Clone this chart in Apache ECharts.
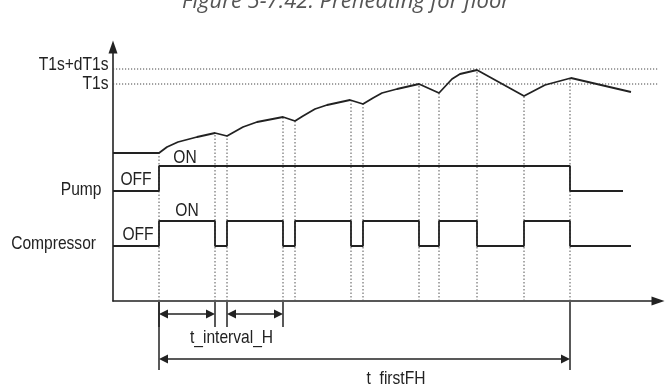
<!DOCTYPE html>
<html><head><meta charset="utf-8">
<script src="https://cdn.jsdelivr.net/npm/echarts@6/dist/echarts.min.js"></script>
<style>html,body{margin:0;padding:0;background:#fff}#c{width:668px;height:385px}</style>
</head><body><div id="c"></div>
<script>
// ---- data (arbitrary time / level units) ----
const titleText = 'Figure 5-7.42: Preheating for floor';
const tempTime  = [0, 46, 54, 65, 84, 102, 114, 130, 144, 170, 182, 190, 202, 214, 237, 250, 260, 269, 284, 306, 326, 339, 347, 364, 411, 432, 458, 518];
const tempLevel = [148, 148, 154, 159, 164, 168, 165, 174, 179, 184, 180, 185, 192, 196, 201, 197, 203, 208, 212, 217, 208, 222, 227, 231, 205, 216, 223, 209];
const setpointNames  = ['T1s+dT1s', 'T1s'];
const setpointLevels = [232, 217];
const pumpTimes  = [0, 46, 457, 510];      // start, switch on, switch off, end
const pumpLevels = [110, 135];             // OFF, ON
const compSwitchTimes = [46, 102, 114, 170, 182, 238, 250, 306, 326, 364, 411, 457];
const compEndTime = 518;
const compLevels = [55, 80];               // OFF, ON
const signalNames = ['Pump', 'Compressor'];
const stateNames = ['OFF', 'ON'];
const intervalH = [[46, 102], [114, 170]];
const firstFH = [46, 457];
const intervalName = 't_interval_H';
const firstName = 't_firstFH';

// ---- derived series data ----
const tempData = tempTime.map((t, i) => [t, tempLevel[i]]);
const pumpData = [[pumpTimes[0], pumpLevels[0]], [pumpTimes[1], pumpLevels[0]], [pumpTimes[1], pumpLevels[1]],
                  [pumpTimes[2], pumpLevels[1]], [pumpTimes[2], pumpLevels[0]], [pumpTimes[3], pumpLevels[0]]];
const compData = [[0, compLevels[0]]];
let st = 0;
compSwitchTimes.forEach(t => { compData.push([t, compLevels[st]]); st = 1 - st; compData.push([t, compLevels[st]]); });
compData.push([compEndTime, compLevels[st]]);
function tempAt(t) {
  for (let i = 0; i < tempTime.length - 1; i++) {
    if (t >= tempTime[i] && t <= tempTime[i + 1]) {
      const f = (t - tempTime[i]) / (tempTime[i + 1] - tempTime[i]);
      return tempLevel[i] + f * (tempLevel[i + 1] - tempLevel[i]);
    }
  }
  return tempLevel[tempLevel.length - 1];
}
const markerLines = [];
compSwitchTimes.forEach(t => { markerLines.push([t, 0], [t, tempAt(t)], [t, null]); });
const setLines = [];
setpointLevels.forEach(v => { setLines.push([0, v], [555, v], [null, v]); });

const FONT = "'Liberation Sans', Arimo, Arial, sans-serif";
const NARROW = 0.82;
const INK = '#222';

const dims = intervalH.map(d => [d[0], d[1], -13, -26]).concat([[firstFH[0], firstFH[1], -58, -69]]);

// text annotations: [time, level], text, alignment
const texts = [
  { at: [-4.5, 236], text: setpointNames[0], align: 'right' },
  { at: [-4.5, 217.5], text: setpointNames[1], align: 'right' },
  { at: [-11.5, 111], text: signalNames[0], align: 'right' },
  { at: [-17, 57], text: signalNames[1], align: 'right' },
  { at: [72, 143], text: stateNames[1], align: 'center' },
  { at: [23, 121], text: stateNames[0], align: 'center' },
  { at: [74, 90], text: stateNames[1], align: 'center' },
  { at: [25, 66], text: stateNames[0], align: 'center' },
  { at: [118.5, -36.5], text: intervalName, align: 'center' },
  { at: [283, -78], text: firstName, align: 'center' }
];

const chart = echarts.init(document.getElementById('c'), null, { renderer: 'canvas' });
chart.setOption({
  animation: false,
  backgroundColor: '#fff',
  grid: { left: 113, right: 10, top: 47, bottom: 84, containLabel: false, outerBoundsMode: 'none' },
  graphic: [{
    type: 'text', x: 346, y: 2, silent: true,
    style: { text: titleText, fontSize: 22, fontStyle: 'italic', fontFamily: "'Open Sans', sans-serif",
             fill: '#555', align: 'center', verticalAlign: 'middle', textAlign: 'center', textVerticalAlign: 'middle' }
  }],
  xAxis: {
    type: 'value', min: 0, max: 545,
    axisLine: { onZero: false, symbol: ['none', 'triangle'], symbolSize: [9, 13], lineStyle: { color: INK, width: 1.6 } },
    axisTick: { show: false }, axisLabel: { show: false }, splitLine: { show: false }
  },
  yAxis: {
    type: 'value', min: 0, max: 254,
    axisLine: { show: true, onZero: false, symbol: ['none', 'triangle'], symbolSize: [9, 13], lineStyle: { color: INK, width: 1.6 } },
    axisTick: { show: false }, splitLine: { show: false }, axisLabel: { show: false }
  },
  series: [
    { type: 'line', data: setLines, clip: false, symbol: 'none', silent: true, connectNulls: false,
      lineStyle: { color: '#444', width: 1, type: [1.2, 1.8] } },
    { type: 'line', data: markerLines, clip: false, symbol: 'none', silent: true, connectNulls: false,
      lineStyle: { color: '#555', width: 1, type: [1.5, 2] } },
    { type: 'line', data: tempData, symbol: 'none', clip: false,
      lineStyle: { color: INK, width: 1.8 } },
    { type: 'line', data: pumpData, symbol: 'none', clip: false,
      lineStyle: { color: INK, width: 1.8 } },
    { type: 'line', data: compData, symbol: 'none', clip: false,
      lineStyle: { color: INK, width: 1.8 } },
    { type: 'custom', clip: false, data: dims, silent: true,
      renderItem: (params, api) => {
        const a = api.coord([api.value(0), api.value(2)]);
        const b = api.coord([api.value(1), api.value(2)]);
        const top = api.coord([0, 0])[1] + 1;
        const bot = api.coord([0, api.value(3)])[1];
        const L = 9, H = 4.5;
        const s = { stroke: INK, lineWidth: 1.5 };
        return { type: 'group', children: [
          { type: 'line', shape: { x1: a[0] + L, y1: a[1], x2: b[0] - L, y2: b[1] }, style: s },
          { type: 'polygon', shape: { points: [[a[0], a[1]], [a[0] + L, a[1] - H], [a[0] + L, a[1] + H]] }, style: { fill: INK } },
          { type: 'polygon', shape: { points: [[b[0], b[1]], [b[0] - L, b[1] - H], [b[0] - L, b[1] + H]] }, style: { fill: INK } },
          { type: 'line', shape: { x1: a[0], y1: top, x2: a[0], y2: bot }, style: s },
          { type: 'line', shape: { x1: b[0], y1: top, x2: b[0], y2: bot }, style: s }
        ] };
      } },
    { type: 'custom', clip: false, silent: true, data: texts.map(d => d.at),
      renderItem: (params, api) => {
        const p = api.coord([api.value(0), api.value(1)]);
        const it = texts[params.dataIndex];
        return { type: 'text', x: p[0], y: p[1], scaleX: NARROW,
          style: { text: it.text, fontFamily: FONT, fontSize: 19, fill: INK,
                   align: it.align, verticalAlign: 'middle', textAlign: it.align, textVerticalAlign: 'middle' } };
      } }
  ]
});
</script></body></html>
